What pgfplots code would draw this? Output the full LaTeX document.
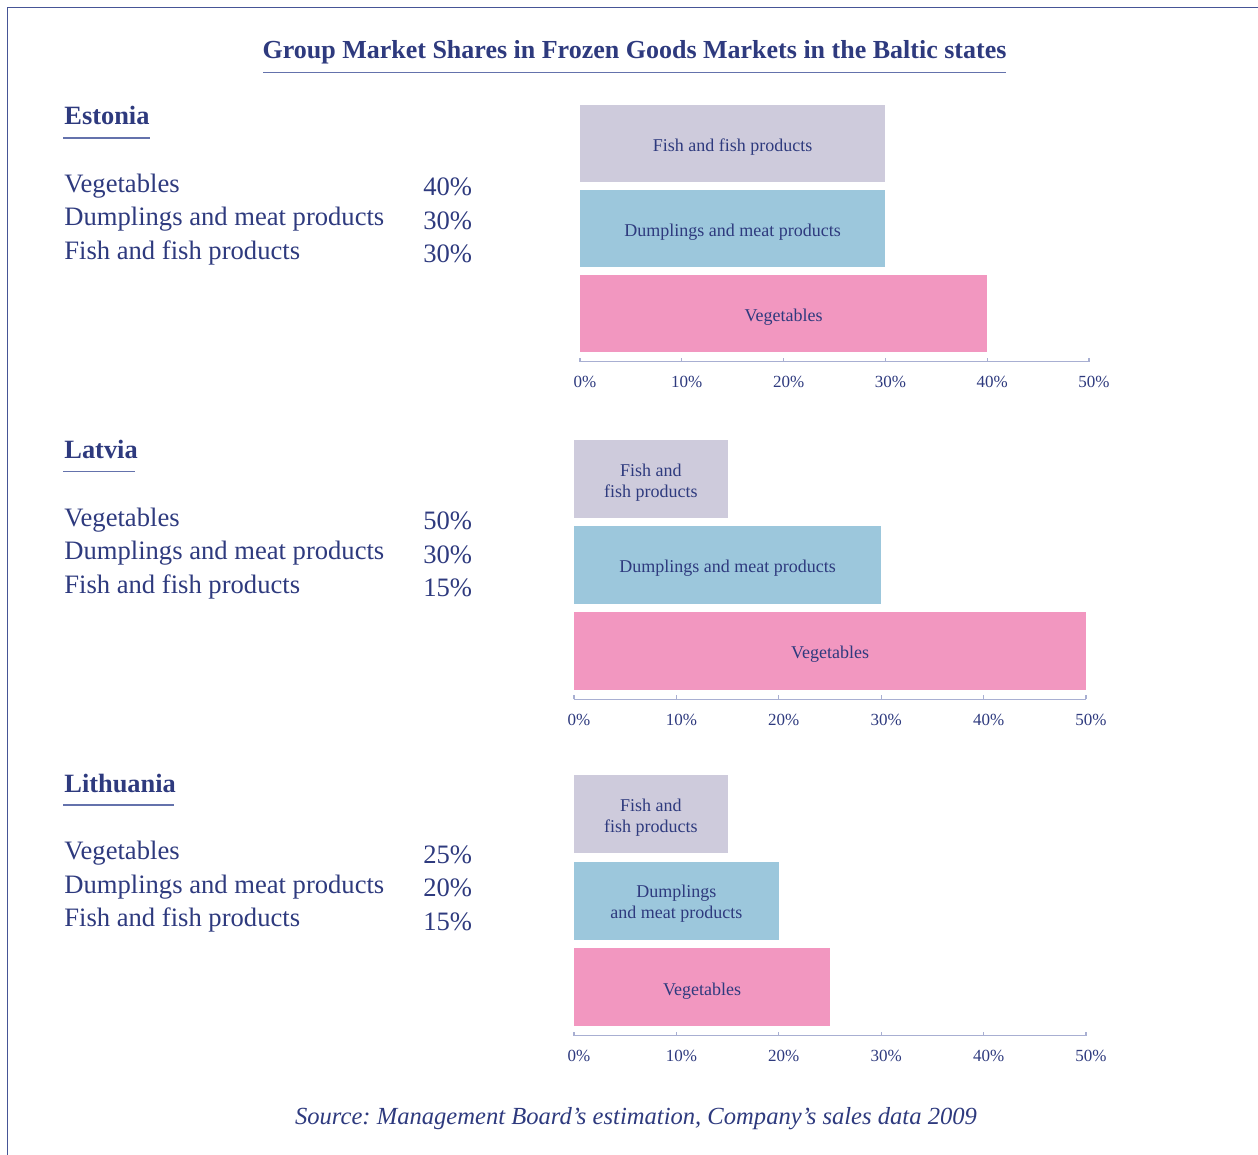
\documentclass[border=0pt]{standalone}
\usepackage{pgfplots}
\pgfplotsset{compat=1.18}
\usepackage{fontspec}
\setmainfont{Liberation Serif}
\frenchspacing
\definecolor{navy}{RGB}{46,58,126}
\definecolor{framecol}{RGB}{70,85,150}
\definecolor{ulcol}{RGB}{100,114,172}
\definecolor{axiscol}{RGB}{168,175,210}
\definecolor{fishcol}{RGB}{206,203,220}
\definecolor{dumpcol}{RGB}{156,199,220}
\definecolor{vegcol}{RGB}{242,151,192}
\tikzset{barlab/.style={font=\fontsize{9}{10.5}\selectfont, text=navy, align=center, yshift=-1.75pt}}
\pgfplotsset{
  panel/.style={
    scale only axis, clip=false,
    xmin=0, xmax=50, ymin=0.44, ymax=3.45,
    axis x line*=bottom, axis y line=none,
    axis line style={draw=axiscol, line width=0.6pt},
    xtick={0,10,20,30,40,50},
    xticklabels={0\%,10\%,20\%,30\%,40\%,50\%},
    tick align=inside, major tick length=2pt,
    xtick style={draw=axiscol, line width=0.6pt},
    xticklabel style={font=\fontsize{8.5}{10}\selectfont, text=navy, xshift=2.5pt, yshift=-3.8pt},
    ytick=\empty,
    anchor=south west,
  },
}
\newcommand{\listfont}{\fontsize{13.3}{15}\selectfont}
\begin{document}
\begin{tikzpicture}
\path[use as bounding box] (0,0) rectangle (629pt,-577.5pt);
\begin{scope}[x=0.5pt,y=-0.5pt]
% frame
\draw[framecol, line width=0.6pt] (7.5,1155) -- (7.5,7.5) -- (1258,7.5);
% title
\node[anchor=base, text=navy, font=\fontsize{13}{15}\selectfont\bfseries, inner sep=0pt] at (634.5,58.5) {Group Market Shares in Frozen Goods Markets in the Baltic states};
\draw[ulcol, line width=0.8pt] (263,72.5) -- (1006,72.5);
% headings
\node[anchor=base west, text=navy, font=\fontsize{13.2}{15}\selectfont\bfseries, inner sep=0pt] at (64,125) {Estonia};
\draw[ulcol, line width=0.8pt] (63,138) -- (150,138);
\node[anchor=base west, text=navy, font=\fontsize{13.2}{15}\selectfont\bfseries, inner sep=0pt] at (64,458.5) {Latvia};
\draw[ulcol, line width=0.8pt] (63,471.5) -- (135,471.5);
\node[anchor=base west, text=navy, font=\fontsize{13.2}{15}\selectfont\bfseries, inner sep=0pt] at (64,792) {Lithuania};
\draw[ulcol, line width=0.8pt] (63,805) -- (174,805);
% left lists
\foreach \off/\a/\b/\c in {0/40/30/30, 333.5/50/30/15, 667/25/20/15}{
  \node[anchor=base west, text=navy, font=\listfont, inner sep=0pt] at (64,192.5+\off) {Vegetables};
  \node[anchor=base west, text=navy, font=\listfont, inner sep=0pt] at (64,226+\off) {Dumplings and meat products};
  \node[anchor=base west, text=navy, font=\listfont, inner sep=0pt] at (64,259.5+\off) {Fish and fish products};
  \node[anchor=base east, text=navy, font=\listfont, inner sep=0pt] at (472.5,196+\off) {\a\%};
  \node[anchor=base east, text=navy, font=\listfont, inner sep=0pt] at (472.5,229.5+\off) {\b\%};
  \node[anchor=base east, text=navy, font=\listfont, inner sep=0pt] at (472.5,263+\off) {\c\%};
}
% source
\node[anchor=base, text=navy, font=\fontsize{12.3}{15}\selectfont\itshape, inner sep=0pt] at (636,1124) {Source: Management Board’s estimation, Company’s sales data 2009};
\end{scope}

% Estonia
\begin{axis}[panel, at={(290pt,-180.85pt)}, width=254.5pt, height=128.35pt]
\addplot[xbar, bar shift=0pt, bar width=38.5pt, fill=vegcol, draw=none] coordinates {(40,1)};
\addplot[xbar, bar shift=0pt, bar width=38.5pt, fill=dumpcol, draw=none] coordinates {(30,2)};
\addplot[xbar, bar shift=0pt, bar width=38.5pt, fill=fishcol, draw=none] coordinates {(30,3)};
\node[barlab] at (axis cs:20,1) {Vegetables};
\node[barlab] at (axis cs:15,2) {Dumplings and meat products};
\node[barlab] at (axis cs:15,3) {Fish and fish products};
\end{axis}

% Latvia
\begin{axis}[panel, at={(287pt,-349.65pt)}, width=256pt, height=129.65pt]
\addplot[xbar, bar shift=0pt, bar width=38.75pt, fill=vegcol, draw=none] coordinates {(50,1)};
\addplot[xbar, bar shift=0pt, bar width=38.75pt, fill=dumpcol, draw=none] coordinates {(30,2)};
\addplot[xbar, bar shift=0pt, bar width=38.75pt, fill=fishcol, draw=none] coordinates {(15,3)};
\node[barlab] at (axis cs:25,1) {Vegetables};
\node[barlab] at (axis cs:15,2) {Dumplings and meat products};
\node[barlab] at (axis cs:7.5,3) {Fish and\\fish products};
\end{axis}

% Lithuania
\begin{axis}[panel, at={(287pt,-517.85pt)}, width=256pt, height=130.35pt]
\addplot[xbar, bar shift=0pt, bar width=39pt, fill=vegcol, draw=none] coordinates {(25,1)};
\addplot[xbar, bar shift=0pt, bar width=39pt, fill=dumpcol, draw=none] coordinates {(20,2)};
\addplot[xbar, bar shift=0pt, bar width=39pt, fill=fishcol, draw=none] coordinates {(15,3)};
\node[barlab] at (axis cs:12.5,1) {Vegetables};
\node[barlab] at (axis cs:10,2) {Dumplings\\and meat products};
\node[barlab] at (axis cs:7.5,3) {Fish and\\fish products};
\end{axis}
\end{tikzpicture}
\end{document}
